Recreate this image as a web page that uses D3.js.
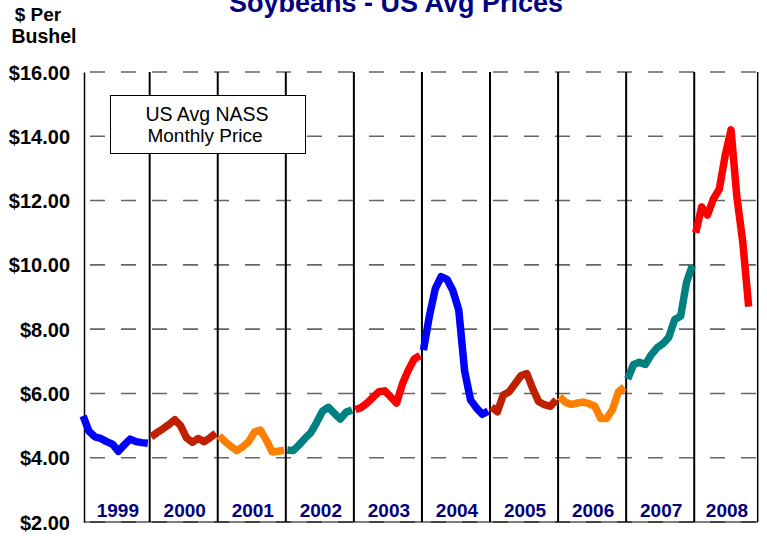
<!DOCTYPE html>
<html>
<head>
<meta charset="utf-8">
<script src="https://cdn.jsdelivr.net/npm/d3@7"></script>
<style>
  html, body { margin: 0; padding: 0; background: #ffffff; }
  svg { display: block; }
  text { font-family: "Liberation Sans", Arial, sans-serif; }
</style>
</head>
<body>
<svg id="chart" width="767" height="536"></svg>
<script>
// ---- data ----
const years = [1999, 2000, 2001, 2002, 2003, 2004, 2005, 2006, 2007, 2008];
const months = ["Jan", "Feb", "Mar", "Apr", "May", "Jun", "Jul", "Aug", "Sep", "Oct", "Nov", "Dec"];
const yTicks = [2, 4, 6, 8, 10, 12, 14, 16];
const p1999 = [5.30, 4.82, 4.65, 4.60, 4.50, 4.42, 4.20, 4.40, 4.58, 4.50, 4.47, 4.45];
const p2000 = [4.65, 4.78, 4.90, 5.03, 5.18, 5.00, 4.62, 4.48, 4.60, 4.50, 4.62, 4.76];
const p2001 = [4.68, 4.50, 4.35, 4.22, 4.34, 4.50, 4.80, 4.86, 4.55, 4.18, 4.20, 4.23];
const p2002 = [4.24, 4.22, 4.40, 4.60, 4.78, 5.10, 5.45, 5.57, 5.38, 5.20, 5.42, 5.48];
const p2003 = [5.50, 5.56, 5.70, 5.88, 6.05, 6.08, 5.89, 5.70, 6.30, 6.72, 7.07, 7.18];
const p2004 = [7.35, 8.40, 9.25, 9.63, 9.55, 9.20, 8.60, 6.70, 5.80, 5.55, 5.35, 5.45];
const p2005 = [5.58, 5.43, 5.95, 6.05, 6.30, 6.55, 6.62, 6.15, 5.75, 5.65, 5.60, 5.80];
const p2006 = [5.90, 5.72, 5.66, 5.70, 5.73, 5.68, 5.60, 5.22, 5.22, 5.50, 6.05, 6.20];
const p2007 = [6.45, 6.90, 6.97, 6.90, 7.20, 7.42, 7.55, 7.75, 8.30, 8.40, 9.45, 9.98];
const p2008 = [11.00, 11.80, 11.55, 12.05, 12.35, 13.40, 14.20, 12.10, 10.70, 8.70];
const series = [p1999, p2000, p2001, p2002, p2003, p2004, p2005, p2006, p2007, p2008];

// ---- styles ----
const yearColors = ["#0000FF", "#BF2000", "#FF8000", "#008080", "#FF0000",
                    "#0000FF", "#BF2000", "#FF8000", "#008080", "#FF0000"];
const navy = "#000080";

const svg = d3.select("#chart");
const plotLeft = 84, plotRight = 757.7, plotTop = 72, plotBottom = 522;

// year boundaries (start of each year)
const xYear = d3.scaleLinear().domain([1999, 2009]).range([81.6, 762.3]);
// month positions within a year band
const xMonth = d3.scalePoint().domain(months).range([1.5, 66.2]);
const y = d3.scaleLinear().domain([2, 16]).range([plotBottom, plotTop]);

// title
svg.append("text")
  .attr("x", 396).attr("y", 12)
  .attr("text-anchor", "middle")
  .attr("font-size", 27).attr("font-weight", "bold")
  .attr("fill", navy)
  .text("Soybeans - US Avg Prices");

// axis unit label
svg.append("text").attr("x", 38).attr("y", 21)
  .attr("text-anchor", "middle").attr("font-size", 19).attr("font-weight", "bold")
  .text("$ Per");
svg.append("text").attr("x", 44).attr("y", 43)
  .attr("text-anchor", "middle").attr("font-size", 19.5).attr("font-weight", "bold")
  .text("Bushel");

// gridlines (dashed)
svg.append("g").selectAll("line")
  .data(yTicks)
  .join("line")
  .attr("x1", plotLeft).attr("x2", plotRight)
  .attr("y1", d => y(d)).attr("y2", d => y(d))
  .attr("stroke", "#666")
  .attr("stroke-width", 1.6)
  .attr("stroke-dasharray", "15,16")
  .attr("stroke-dashoffset", -6);

// y axis
const yAxis = d3.axisLeft(y)
  .tickValues(yTicks)
  .tickSize(0)
  .tickPadding(14)
  .tickFormat(d => "$" + d3.format(".2f")(d));
const gy = svg.append("g").attr("transform", `translate(${plotLeft},0)`).call(yAxis);
gy.select(".domain").attr("stroke", "#000").attr("stroke-width", 1.5);
gy.selectAll("text")
  .attr("font-family", "Liberation Sans, Arial, sans-serif")
  .attr("font-size", 20).attr("font-weight", "bold").attr("fill", "#000")
  .attr("dy", "0.35em");

// bottom axis line
svg.append("line")
  .attr("x1", plotLeft).attr("x2", plotRight)
  .attr("y1", y(2)).attr("y2", y(2))
  .attr("stroke", "#000").attr("stroke-width", 1.2);

// year divider lines
svg.append("g").selectAll("line")
  .data(years.slice(1))
  .join("line")
  .attr("x1", d => xYear(d)).attr("x2", d => xYear(d))
  .attr("y1", plotTop).attr("y2", plotBottom)
  .attr("stroke", "#000").attr("stroke-width", 2);
svg.append("line")
  .attr("x1", plotRight).attr("x2", plotRight)
  .attr("y1", plotTop).attr("y2", plotBottom)
  .attr("stroke", "#000").attr("stroke-width", 1.5);

// year labels
svg.append("g").selectAll("text")
  .data(years)
  .join("text")
  .attr("x", d => (Math.max(xYear(d), plotLeft) + Math.min(xYear(d + 1), plotRight)) / 2 + 1)
  .attr("y", 516.5)
  .attr("text-anchor", "middle")
  .attr("font-size", 19).attr("font-weight", "bold")
  .attr("fill", navy)
  .text(d => d);

// price lines, one per year
const line = d3.line()
  .x(d => xYear(d.year) + xMonth(d.month))
  .y(d => y(d.v));
series.forEach((vals, i) => {
  const pts = vals.map((v, m) => ({ year: years[i], month: months[m], v }));
  svg.append("path")
    .datum(pts)
    .attr("d", line)
    .attr("fill", "none")
    .attr("stroke", yearColors[i])
    .attr("stroke-width", 7.5)
    .attr("stroke-linejoin", "round")
    .attr("stroke-linecap", "butt");
});

// legend box
svg.append("rect")
  .attr("x", 110.5).attr("y", 95.5).attr("width", 195).attr("height", 58)
  .attr("fill", "#fff").attr("stroke", "#000").attr("stroke-width", 1);
svg.append("text").attr("x", 207).attr("y", 121)
  .attr("text-anchor", "middle").attr("font-size", 19.5)
  .text("US Avg NASS");
svg.append("text").attr("x", 205).attr("y", 142)
  .attr("text-anchor", "middle").attr("font-size", 19)
  .text("Monthly Price");
</script>
</body>
</html>
